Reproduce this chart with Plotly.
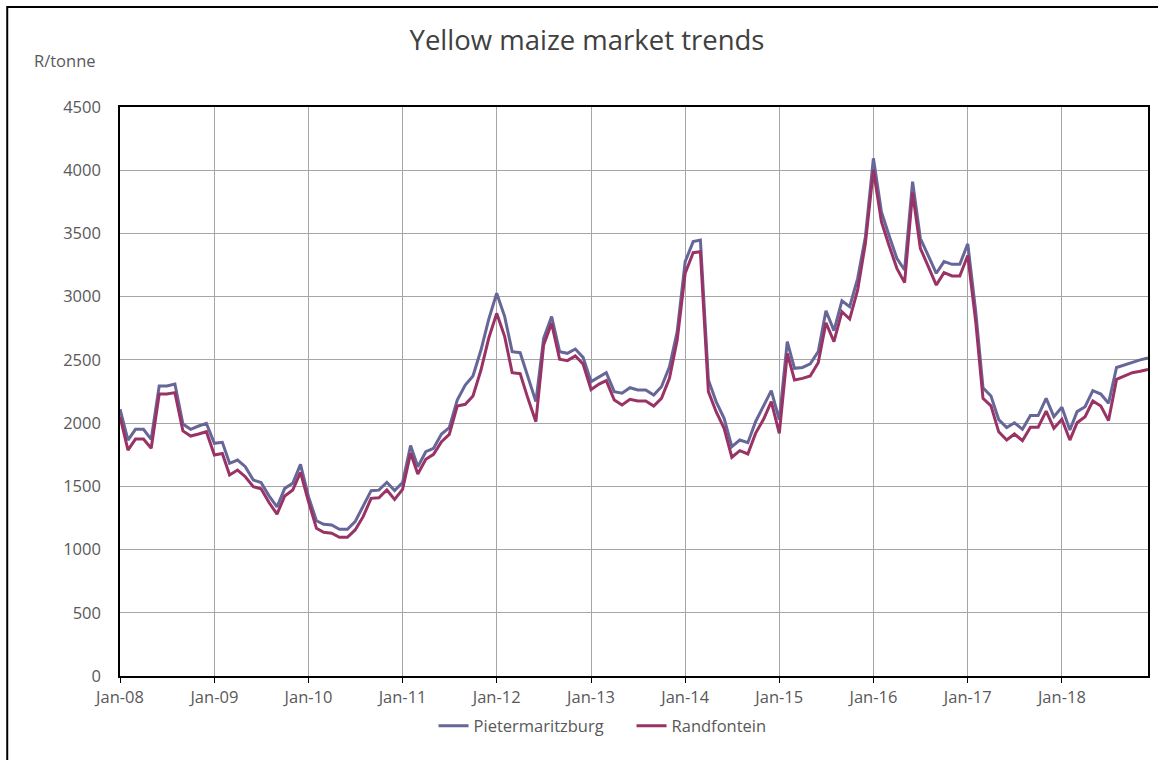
import pandas as pd
import plotly.graph_objects as go

# Monthly prices, Jan 2008 - Dec 2018 (R/tonne)
months = pd.date_range("2008-01-01", "2018-12-01", freq="MS")

pietermaritzburg = [
    2110, 1866, 1951, 1951, 1872, 2293, 2293, 2309, 1993, 1951, 1977, 1998,
    1840, 1848, 1682, 1708, 1655, 1550, 1530, 1425, 1337, 1484, 1524, 1674,
    1418, 1228, 1200, 1194, 1160, 1160, 1221, 1339, 1466, 1470, 1532, 1466,
    1530, 1823, 1655, 1774, 1801, 1914, 1964, 2183, 2301, 2373, 2578, 2821,
    3027, 2842, 2565, 2557, 2367, 2170, 2671, 2842, 2565, 2552, 2586, 2520,
    2328, 2367, 2399, 2249, 2236, 2280, 2262, 2262, 2222, 2288, 2446, 2723,
    3277, 3435, 3448, 2341, 2170, 2038, 1814, 1866, 1845, 2011, 2130, 2257,
    2025, 2644, 2433, 2440, 2468, 2565, 2889, 2731, 2968, 2921, 3145, 3474,
    4094, 3672, 3488, 3303, 3211, 3910, 3462, 3322, 3185, 3277, 3256, 3256,
    3418, 2880, 2280, 2215, 2028, 1965, 2003, 1951, 2060, 2060, 2196, 2051,
    2125, 1946, 2091, 2130, 2257, 2230, 2157, 2440, 2460, 2485, 2500, 2515,
]

randfontein = [
    2051, 1787, 1874, 1874, 1801, 2230, 2230, 2241, 1938, 1898, 1914, 1932,
    1748, 1760, 1590, 1629, 1576, 1497, 1480, 1372, 1280, 1424, 1471, 1611,
    1379, 1168, 1137, 1129, 1097, 1097, 1155, 1260, 1405, 1410, 1471, 1397,
    1476, 1763, 1598, 1714, 1753, 1853, 1911, 2135, 2149, 2214, 2420, 2671,
    2868, 2684, 2399, 2391, 2196, 2011, 2618, 2789, 2505, 2494, 2531, 2468,
    2265, 2309, 2336, 2183, 2143, 2188, 2175, 2175, 2135, 2196, 2354, 2657,
    3185, 3348, 3356, 2249, 2090, 1959, 1730, 1782, 1756, 1919, 2030, 2170,
    1919, 2552, 2341, 2354, 2373, 2478, 2794, 2644, 2881, 2823, 3053, 3422,
    4002, 3593, 3409, 3224, 3111, 3823, 3383, 3237, 3092, 3190, 3164, 3164,
    3326, 2800, 2196, 2137, 1931, 1866, 1914, 1861, 1967, 1967, 2095, 1959,
    2030, 1866, 2003, 2051, 2175, 2135, 2020, 2346, 2373, 2399, 2410, 2425,
]

series = [
    ("Pietermaritzburg", pietermaritzburg, "#666699"),
    ("Randfontein", randfontein, "#993366"),
]

FONT = "Open Sans"
TEXT = "#595959"

fig = go.Figure()
for name, values, color in series:
    fig.add_trace(go.Scatter(
        x=months, y=values, name=name, mode="lines",
        line=dict(color=color, width=3),
    ))

fig.update_layout(
    width=1158, height=760,
    margin=dict(l=120, r=8, t=107, b=84),
    paper_bgcolor="white", plot_bgcolor="white",
    font=dict(family=FONT, size=16, color=TEXT),
    title=dict(
        text="Yellow maize market trends",
        x=587 / 1158, xanchor="center", xref="container",
        y=1 - 40 / 760, yanchor="middle", yref="container",
        font=dict(family=FONT, size=27.5, color="#404040"),
    ),
    showlegend=True,
    legend=dict(
        orientation="h", x=0.305, xanchor="left",
        y=-0.088, yanchor="middle",
        entrywidth=153, entrywidthmode="pixels",
        font=dict(family=FONT, size=16.5, color=TEXT),
        bgcolor="rgba(0,0,0,0)",
    ),
    annotations=[dict(
        text="R/tonne", xref="paper", yref="paper",
        x=-0.0534, y=1.0826, xanchor="center", yanchor="middle",
        showarrow=False, font=dict(family=FONT, size=16.5, color=TEXT),
    )],
    shapes=[dict(
        type="rect", xref="paper", yref="paper",
        x0=-0.1097, x1=1.2, y0=-0.3, y1=1.1757,
        line=dict(color="#000000", width=2), fillcolor="rgba(0,0,0,0)",
        layer="below",
    )],
)

fig.update_xaxes(
    type="date",
    range=["2008-01-01", "2018-12-01"],
    tick0="2008-01-01", dtick="M12", tickformat="%b-%y",
    showgrid=True, gridcolor="#a6a6a6", gridwidth=1,
    showline=True, linecolor="#000000", linewidth=1.5, mirror=True,
    ticks="outside", ticklen=5, tickcolor="#000000", tickwidth=1,
    tickfont=dict(family=FONT, size=16.5, color=TEXT),
    zeroline=False,
)
fig.update_yaxes(
    range=[0, 4500], dtick=500, tick0=0,
    showgrid=True, gridcolor="#a6a6a6", gridwidth=1,
    showline=True, linecolor="#000000", linewidth=1.5, mirror=True,
    ticks="", ticklabelstandoff=14,
    tickfont=dict(family=FONT, size=16.5, color=TEXT),
    zeroline=False,
)

fig.write_html("out.html")
